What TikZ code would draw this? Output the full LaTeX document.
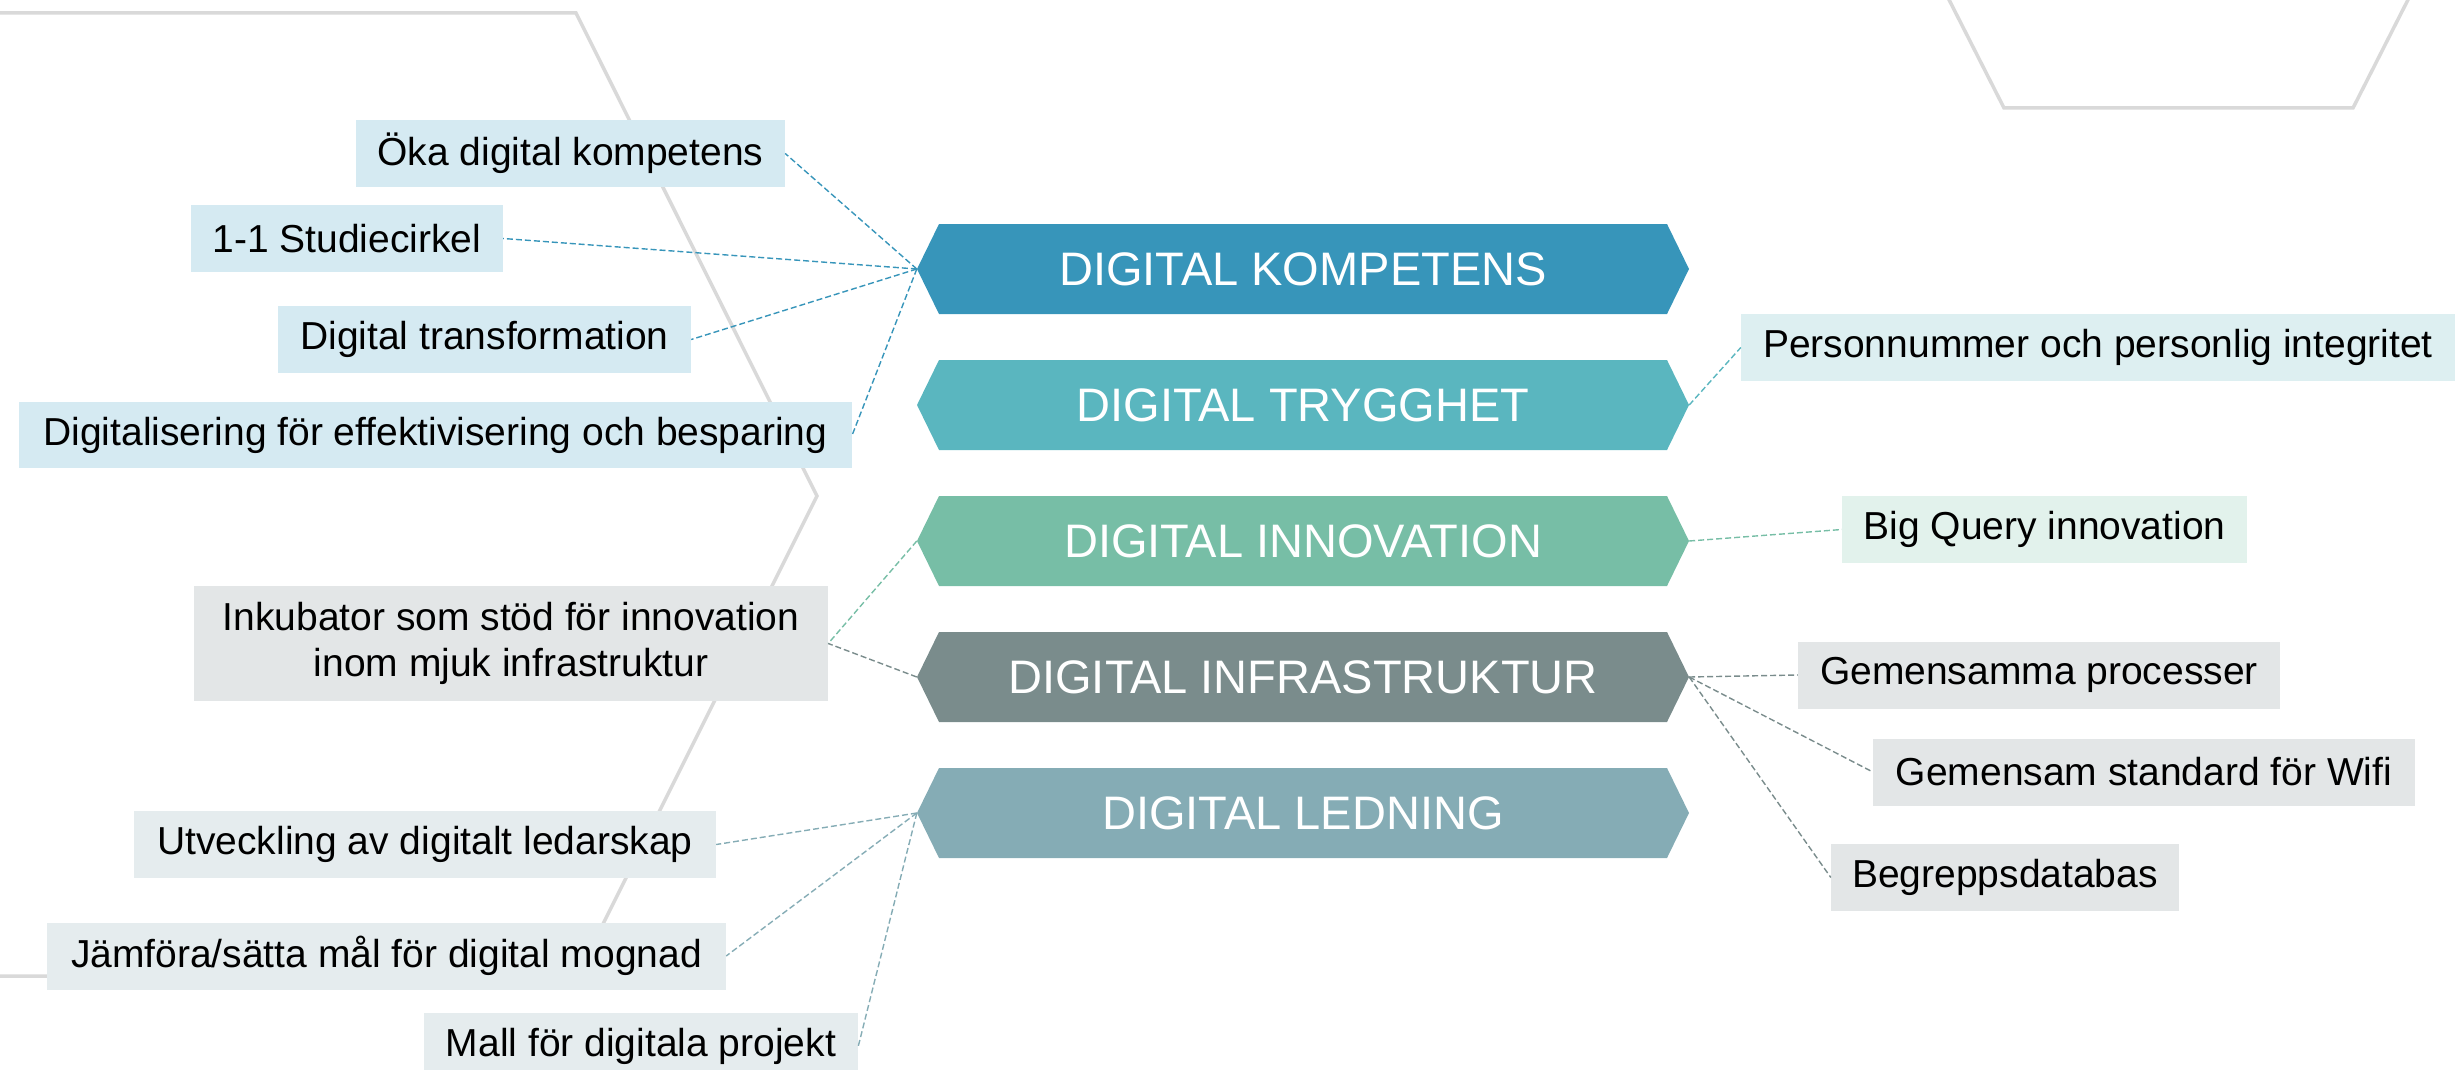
\documentclass[tikz,border=0pt]{standalone}
\usepackage{fontspec}
\setmainfont{Liberation Sans}
\definecolor{ck}{HTML}{3795BA}
\definecolor{ct}{HTML}{5AB6BF}
\definecolor{ci}{HTML}{77BEA6}
\definecolor{cf}{HTML}{7A8C8C}
\definecolor{cl}{HTML}{85ACB5}
\definecolor{bk}{HTML}{D5EAF2}
\definecolor{bt}{HTML}{DDEFF1}
\definecolor{bi}{HTML}{E2F2EC}
\definecolor{bf}{HTML}{E3E6E7}
\definecolor{bl}{HTML}{E5ECEE}
\definecolor{bgline}{HTML}{D9D9D9}
\tikzset{
  hexlabel/.style={inner sep=0pt, minimum width=772pt, minimum height=90pt, text=white, font=\fontsize{47}{56}\selectfont},
  itembox/.style={inner sep=0pt, minimum height=67pt, text=black, align=center, font=\fontsize{39}{46}\selectfont},
  conn/.style={line width=1.4pt, dash pattern=on 6pt off 3pt},
  bgshape/.style={draw=bgline, line width=3.5pt, line join=miter}
}
\newcommand\hexbox[4]{%
  \fill[#3] (917,#2) -- (939,{#2-45}) -- (1667,{#2-45}) -- (1689,#2) -- (1667,{#2+45}) -- (939,{#2+45}) -- cycle;
  \node[hexlabel] (#1) at (1303,#2) {#4};}
\begin{document}
\begin{tikzpicture}[x=1pt,y=-1pt]
\useasboundingbox (0,0) rectangle (2455,1070);
\clip (0,0) rectangle (2455,1070);
% background shapes
\draw[bgshape] (-10,13) -- (576,13) -- (817,496) -- (577,976) -- (-10,976);
\draw[bgshape] (1939,-20) -- (2004,108) -- (2353,108) -- (2418,-20);
% hexagons
\hexbox{k}{269}{ck}{DIGITAL KOMPETENS}
\hexbox{t}{405}{ct}{DIGITAL TRYGGHET}
\hexbox{i}{541}{ci}{DIGITAL INNOVATION}
\hexbox{f}{677}{cf}{DIGITAL INFRASTRUKTUR}
\hexbox{l}{813}{cl}{DIGITAL LEDNING}
% left boxes
\node[itembox, fill=bk, minimum width=429pt] (oka) at (570.5,153.5) {Öka digital kompetens};
\node[itembox, fill=bk, minimum width=312pt] (stud) at (347,238.5) {1-1 Studiecirkel};
\node[itembox, fill=bk, minimum width=413pt] (trans) at (484.5,339.5) {Digital transformation};
\node[itembox, fill=bk, minimum width=833pt, minimum height=66pt] (effekt) at (435.5,435) {Digitalisering för effektivisering och besparing};
\node[itembox, fill=bf, minimum width=634pt, minimum height=115pt] (inku) at (511,643.5) {Inkubator som stöd för innovation\\inom mjuk infrastruktur};
\node[itembox, fill=bl, minimum width=582pt] (utv) at (425,844.5) {Utveckling av digitalt ledarskap};
\node[itembox, fill=bl, minimum width=679pt] (jamf) at (386.5,956) {Jämföra/sätta mål för digital mognad};
\node[itembox, fill=bl, minimum width=434pt] (mall) at (641,1046.5) {Mall för digitala projekt};
% right boxes
\node[itembox, fill=bt, minimum width=714pt] (pnr) at (2098,347.5) {Personnummer och personlig integritet};
\node[itembox, fill=bi, minimum width=405pt] (bq) at (2044.5,529.5) {Big Query innovation};
\node[itembox, fill=bf, minimum width=482pt] (gp) at (2039,675) {Gemensamma processer};
\node[itembox, fill=bf, minimum width=542pt] (wifi) at (2144,772) {Gemensam standard för Wifi};
\node[itembox, fill=bf, minimum width=348pt] (begr) at (2005,877.5) {Begreppsdatabas};
% connectors
\draw[conn, ck] (k.west) -- (oka.east);
\draw[conn, ck] (k.west) -- (stud.east);
\draw[conn, ck] (k.west) -- (trans.east);
\draw[conn, ck] (k.west) -- (effekt.east);
\draw[conn, ct] (t.east) -- (pnr.west);
\draw[conn, ci] (i.west) -- (inku.east);
\draw[conn, cf] (f.west) -- (inku.east);
\draw[conn, ci] (i.east) -- (bq.west);
\draw[conn, cf] (f.east) -- (gp.west);
\draw[conn, cf] (f.east) -- (wifi.west);
\draw[conn, cf] (f.east) -- (begr.west);
\draw[conn, cl] (l.west) -- (utv.east);
\draw[conn, cl] (l.west) -- (jamf.east);
\draw[conn, cl] (l.west) -- (mall.east);
\end{tikzpicture}
\end{document}
